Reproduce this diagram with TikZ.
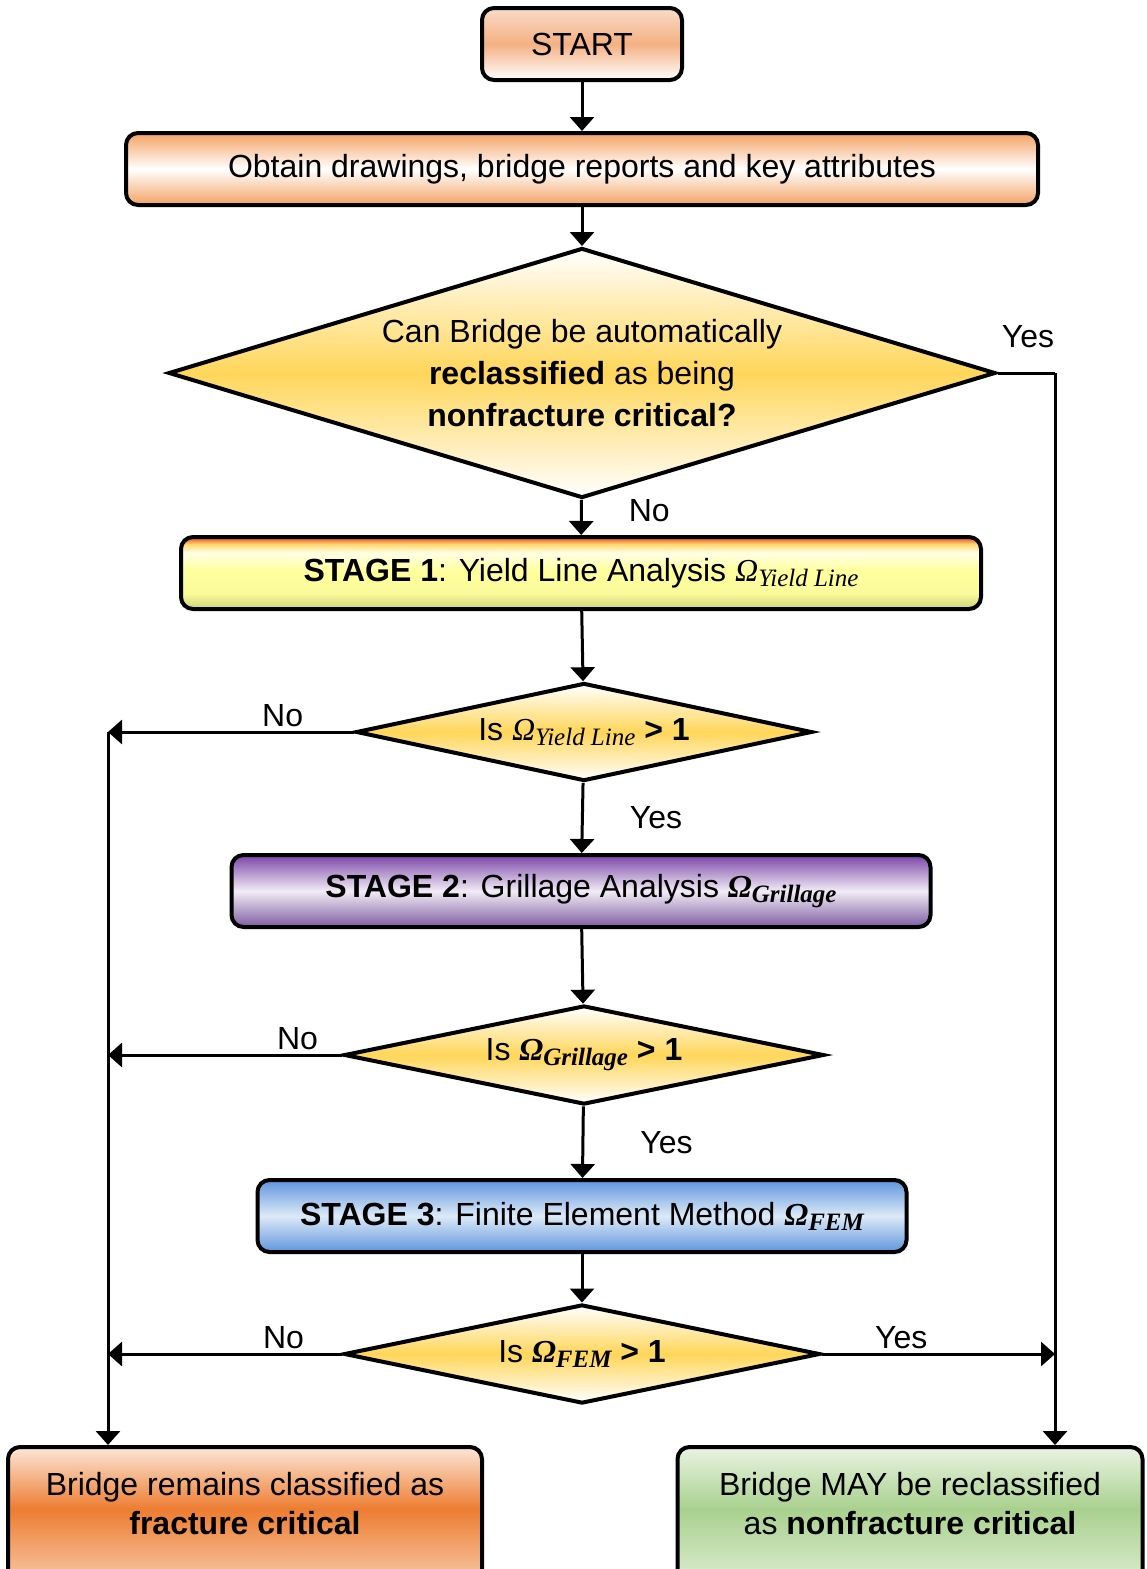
\documentclass[tikz,border=0pt]{standalone}
\usepackage{fontspec}
\setmainfont{Liberation Sans}
\newfontfamily\omfont{Liberation Serif}
\usetikzlibrary{arrows.meta,shapes.geometric}
\newcommand\flowfont{\fontsize{16}{21}\selectfont}
\newcommand\omsub[1]{\raisebox{-0.35ex}{\fontsize{12.5}{12.5}\selectfont #1}}
\newcommand\omr[1]{{\omfont\itshape Ω\omsub{#1}}}
\newcommand\omb[1]{{\omfont\bfseries\itshape Ω\omsub{#1}}}
% fills
\definecolor{startmid}{HTML}{F4B183}
\definecolor{startlo}{HTML}{FADBC8}
\definecolor{obtedge}{HTML}{F4A264}
\definecolor{redtop}{HTML}{E8421E}
\definecolor{ylw}{HTML}{FFFF9E}
\definecolor{olive}{HTML}{CDD27A}
\definecolor{purp}{HTML}{7A45A8}
\definecolor{purplo}{HTML}{7D5CA0}
\definecolor{purpmid}{HTML}{F2ECF6}
\definecolor{bluetop}{HTML}{5F95DC}
\definecolor{bluemid}{HTML}{DCEAF8}
\definecolor{gold}{HTML}{FFD65A}
\definecolor{orng}{HTML}{ED7D31}
\definecolor{peach}{HTML}{FADCC8}
\definecolor{grn}{HTML}{A9D18E}
\definecolor{grnlt}{HTML}{EAF3E3}
\pgfdeclareverticalshading{startshade}{100bp}{color(0bp)=(white); color(25bp)=(white); color(50bp)=(startmid); color(75bp)=(startlo); color(100bp)=(startlo)}
\pgfdeclareverticalshading{obtshade}{100bp}{color(0bp)=(obtedge); color(25bp)=(obtedge); color(50bp)=(white); color(75bp)=(obtedge); color(100bp)=(obtedge)}
\pgfdeclareverticalshading{oneshade}{100bp}{color(0bp)=(olive); color(25bp)=(olive); color(36bp)=(ylw!90!olive); color(52bp)=(ylw); color(64bp)=(ylw!25!white); color(70bp)=(ylw!70!orange); color(75bp)=(redtop); color(100bp)=(redtop)}
\pgfdeclareverticalshading{twoshade}{100bp}{color(0bp)=(purplo); color(25bp)=(purplo); color(50bp)=(purpmid); color(75bp)=(purp); color(100bp)=(purp)}
\pgfdeclareverticalshading{threeshade}{100bp}{color(0bp)=(bluetop); color(25bp)=(bluetop); color(50bp)=(bluemid); color(75bp)=(bluetop); color(100bp)=(bluetop)}
\pgfdeclareverticalshading{decshade}{100bp}{color(0bp)=(white); color(25bp)=(white); color(50bp)=(gold); color(75bp)=(white); color(100bp)=(white)}
\pgfdeclareverticalshading{fcshade}{100bp}{color(0bp)=(peach); color(25bp)=(peach); color(55bp)=(orng); color(75bp)=(peach!70!white); color(100bp)=(peach!70!white)}
\pgfdeclareverticalshading{nfcshade}{100bp}{color(0bp)=(grnlt); color(25bp)=(grnlt); color(55bp)=(grn); color(75bp)=(grnlt); color(100bp)=(grnlt)}
\tikzset{
  blk/.style={rectangle, draw, line width=2pt, rounded corners=6pt, align=center,
              font=\flowfont, inner sep=0pt, minimum height=36pt},
  dec/.style={diamond, draw, line width=2pt, align=center, font=\flowfont,
              inner sep=0pt, shading=decshade},
  endbox/.style={rectangle, draw, line width=2pt, rounded corners=6pt, align=center,
                 font=\fontsize{16}{19.5}\selectfont, inner xsep=0pt, inner ysep=0pt,
                 anchor=north, text height=43.5pt, text depth=34pt},
  fl/.style={-{Triangle[length=7pt,width=12pt]}, line width=1.5pt},
  ln/.style={line width=1.5pt},
  lbl/.style={font=\flowfont, inner sep=2pt},
}
\begin{document}
\begin{tikzpicture}[x=0.5pt, y=-0.5pt]
\useasboundingbox (0,0) rectangle (1146,1569);
\node[blk, shading=startshade, minimum width=100pt] (start) at (582,44) {START};
\node[blk, shading=obtshade, minimum width=456pt] (obtain) at (582,169) {Obtain drawings, bridge reports and key attributes};
\node[dec, aspect=3.3, minimum width=413.5pt, minimum height=125pt] (auto) at (582,373)
  {Can Bridge be automatically\\\textbf{reclassified} as being\\\textbf{nonfracture critical?}};
\node[blk, shading=oneshade, minimum width=400pt] (stone) at (581,573)
  {\textbf{STAGE 1}: Yield Line Analysis \omr{Yield Line}};
\node[dec, aspect=4.65, minimum width=228pt, minimum height=49pt] (chkone) at (584,732)
  {Is \omr{Yield Line} \textbf{> 1}};
\node[blk, shading=twoshade, minimum width=349.5pt] (sttwo) at (581,891)
  {\textbf{STAGE 2}: Grillage Analysis \omb{Grillage}};
\node[dec, aspect=4.85, minimum width=240pt, minimum height=49.5pt] (chktwo) at (584,1055)
  {Is \omb{Grillage} \textbf{> 1}};
\node[blk, shading=threeshade, minimum width=324.5pt] (stthree) at (582,1216)
  {\textbf{STAGE 3}: Finite Element Method \omb{FEM}};
\node[dec, aspect=4.8, minimum width=238pt, minimum height=49.5pt] (chkthree) at (582,1354)
  {Is \omb{FEM} \textbf{> 1}};
\node[endbox, shading=fcshade, minimum width=237pt] (fc) at (245,1445)
  {Bridge remains classified as\\\textbf{fracture critical}};
\node[endbox, shading=nfcshade, minimum width=232.5pt] (nfc) at (910,1445)
  {Bridge MAY be reclassified\\as \textbf{nonfracture critical}};
\coordinate (ybus) at (1055,373);
\coordinate (nbus) at (108,732);
% main line
\draw[fl] (start) -- (obtain);
\draw[fl] (obtain) -- (auto);
\draw[fl] (auto) -- node[lbl, anchor=west, pos=.3, xshift=21pt]{No} (stone);
\draw[fl] (stone) -- (chkone);
\draw[fl] (chkone) -- node[lbl, anchor=west, xshift=21pt]{Yes} (sttwo);
\draw[fl] (sttwo) -- (chktwo);
\draw[fl] (chktwo) -- node[lbl, anchor=west, xshift=26pt]{Yes} (stthree);
\draw[fl] (stthree) -- (chkthree);
% yes side
\draw[ln] (auto.east) -- node[lbl, above, pos=.53, yshift=10pt]{Yes} (ybus);
\draw[fl] (ybus) -- (ybus |- nfc.north);
\draw[fl] (chkthree.east) -- node[lbl, above, pos=.34]{Yes} (ybus |- chkthree.east);
% no side
\draw[fl] (chkone.west) -- node[lbl, above, pos=.29]{No} (nbus);
\draw[fl] (nbus) -- (nbus |- fc.north);
\draw[fl] (chktwo.west) -- node[lbl, above, pos=.19]{No} (nbus |- chktwo.west);
\draw[fl] (chkthree.west) -- node[lbl, above, pos=.25]{No} (nbus |- chkthree.west);
\end{tikzpicture}
\end{document}
